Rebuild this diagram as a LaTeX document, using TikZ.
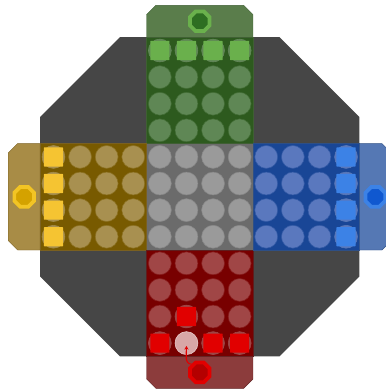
\documentclass[tikz,border=0pt]{standalone}
\usepackage{xcolor}
\usepackage{tikz}
\usetikzlibrary{shapes.geometric, arrows.meta, positioning}

\definecolor{board}{HTML}{464646}
\definecolor{bgmid}{HTML}{6B6B6B}
\definecolor{slotmid}{HTML}{9A9A9A}
\definecolor{edgemid}{HTML}{888888}
% green
\definecolor{bggrn}{HTML}{2D5A1E}
\definecolor{slotgrn}{HTML}{5F8755}
\definecolor{tabgrn}{HTML}{5A7D4B}
\definecolor{edgegrn}{HTML}{3F5F33}
\definecolor{higrn}{HTML}{6AB04C}
\definecolor{darkgrn}{HTML}{2E6E22}
\definecolor{pcgrn}{HTML}{6AB04C}
% yellow
\definecolor{bgylw}{HTML}{785A00}
\definecolor{slotylw}{HTML}{A89050}
\definecolor{tabylw}{HTML}{A88C46}
\definecolor{edgeylw}{HTML}{7A6020}
\definecolor{hiylw}{HTML}{F2C424}
\definecolor{darkylw}{HTML}{D4A200}
\definecolor{pcylw}{HTML}{F5C432}
% blue
\definecolor{bgblu}{HTML}{194696}
\definecolor{slotblu}{HTML}{5A78BE}
\definecolor{tabblu}{HTML}{5578B4}
\definecolor{edgeblu}{HTML}{2E4F85}
\definecolor{hiblu}{HTML}{3C82E6}
\definecolor{darkblu}{HTML}{1058D0}
\definecolor{pcblu}{HTML}{3C82E6}
% red
\definecolor{bgred}{HTML}{780000}
\definecolor{slotred}{HTML}{A04646}
\definecolor{tabred}{HTML}{8C3C3C}
\definecolor{edgered}{HTML}{5E1E1E}
\definecolor{hired}{HTML}{E10000}
\definecolor{darkred}{HTML}{B40000}
\definecolor{pcred}{HTML}{E10000}
\definecolor{startred}{HTML}{D8A6A6}

\begin{document}
\begin{tikzpicture}[x=1cm, y=1cm]
\tikzstyle{slot} = [circle, minimum size=0.86cm, inner sep=0pt, line width=0.6pt]
\tikzstyle{piece} = [rectangle, minimum width=0.72cm, minimum height=0.72cm, inner sep=0pt, rounded corners=0.5pt]
\tikzstyle{ring} = [regular polygon, regular polygon sides=8, minimum size=0.8cm, inner sep=0pt, line width=4pt]
\tikzstyle{halo} = [draw=white, opacity=0.2, line width=0.6pt]
\tikzstyle{arrow} = [line width=1.2pt, -{Stealth[length=4pt, width=4.5pt]}]

\useasboundingbox (-7.51,-7.30) rectangle (7.0,7.40);

% board
\fill[board] (-3,6) -- (3,6) -- (6,3) -- (6,-3) -- (3,-6) -- (-3,-6) -- (-6,-3) -- (-6,3) -- cycle;

% centre field
\draw[fill=bgmid, draw=board!80!bgmid] (-2,-2) rectangle (2,2);
\foreach \i in {0,...,3}
  \foreach \j in {0,...,3}
    \node (mid-\i-\j) [slot, fill=slotmid, draw=edgemid] at (-1.5+\i,-1.5+\j) {};

% arms
\foreach \ang/\c in {0/grn, 90/ylw, 180/red, 270/blu} {
  \begin{scope}[rotate=\ang]
    \draw[fill=bg\c, draw=edge\c] (-2,2) rectangle (2,6);
    \draw[fill=tab\c, draw=edge\c] (-2,6) -- (-2,6.85) -- (-1.65,7.2) -- (1.65,7.2) -- (2,6.85) -- (2,6) -- cycle;
    \node (ring-\c) [ring, draw=hi\c, fill=dark\c] at (0,6.6) {};
    \foreach \i in {0,...,3}
      \foreach \j in {0,...,3}
        \node (\c-\i-\j) [slot, fill=slot\c, draw=bg\c!60!slot\c] at (-1.5+\i,2.5+\j) {};
  \end{scope}
}

% pieces
\foreach \c in {grn, ylw, blu}
  \foreach \i in {0,...,3} {
    \draw[halo] (\c-\i-3) circle (0.43);
    \node (pc-\c-\i) [piece, fill=pc\c] at (\c-\i-3) {};
  }
\node (start) [slot, fill=startred, draw=white!40!startred] at (red-2-3) {};
\foreach \i/\j in {0/3, 1/3, 3/3, 2/2} {
  \draw[halo] (red-\i-\j) circle (0.43);
  \node (pc-red-\i-\j) [piece, fill=pcred] at (red-\i-\j) {};
}

\draw[arrow, draw=pcred] (ring-red.north west) to[out=180, in=-90] ([yshift=-3pt]start.center);
\end{tikzpicture}
\end{document}
